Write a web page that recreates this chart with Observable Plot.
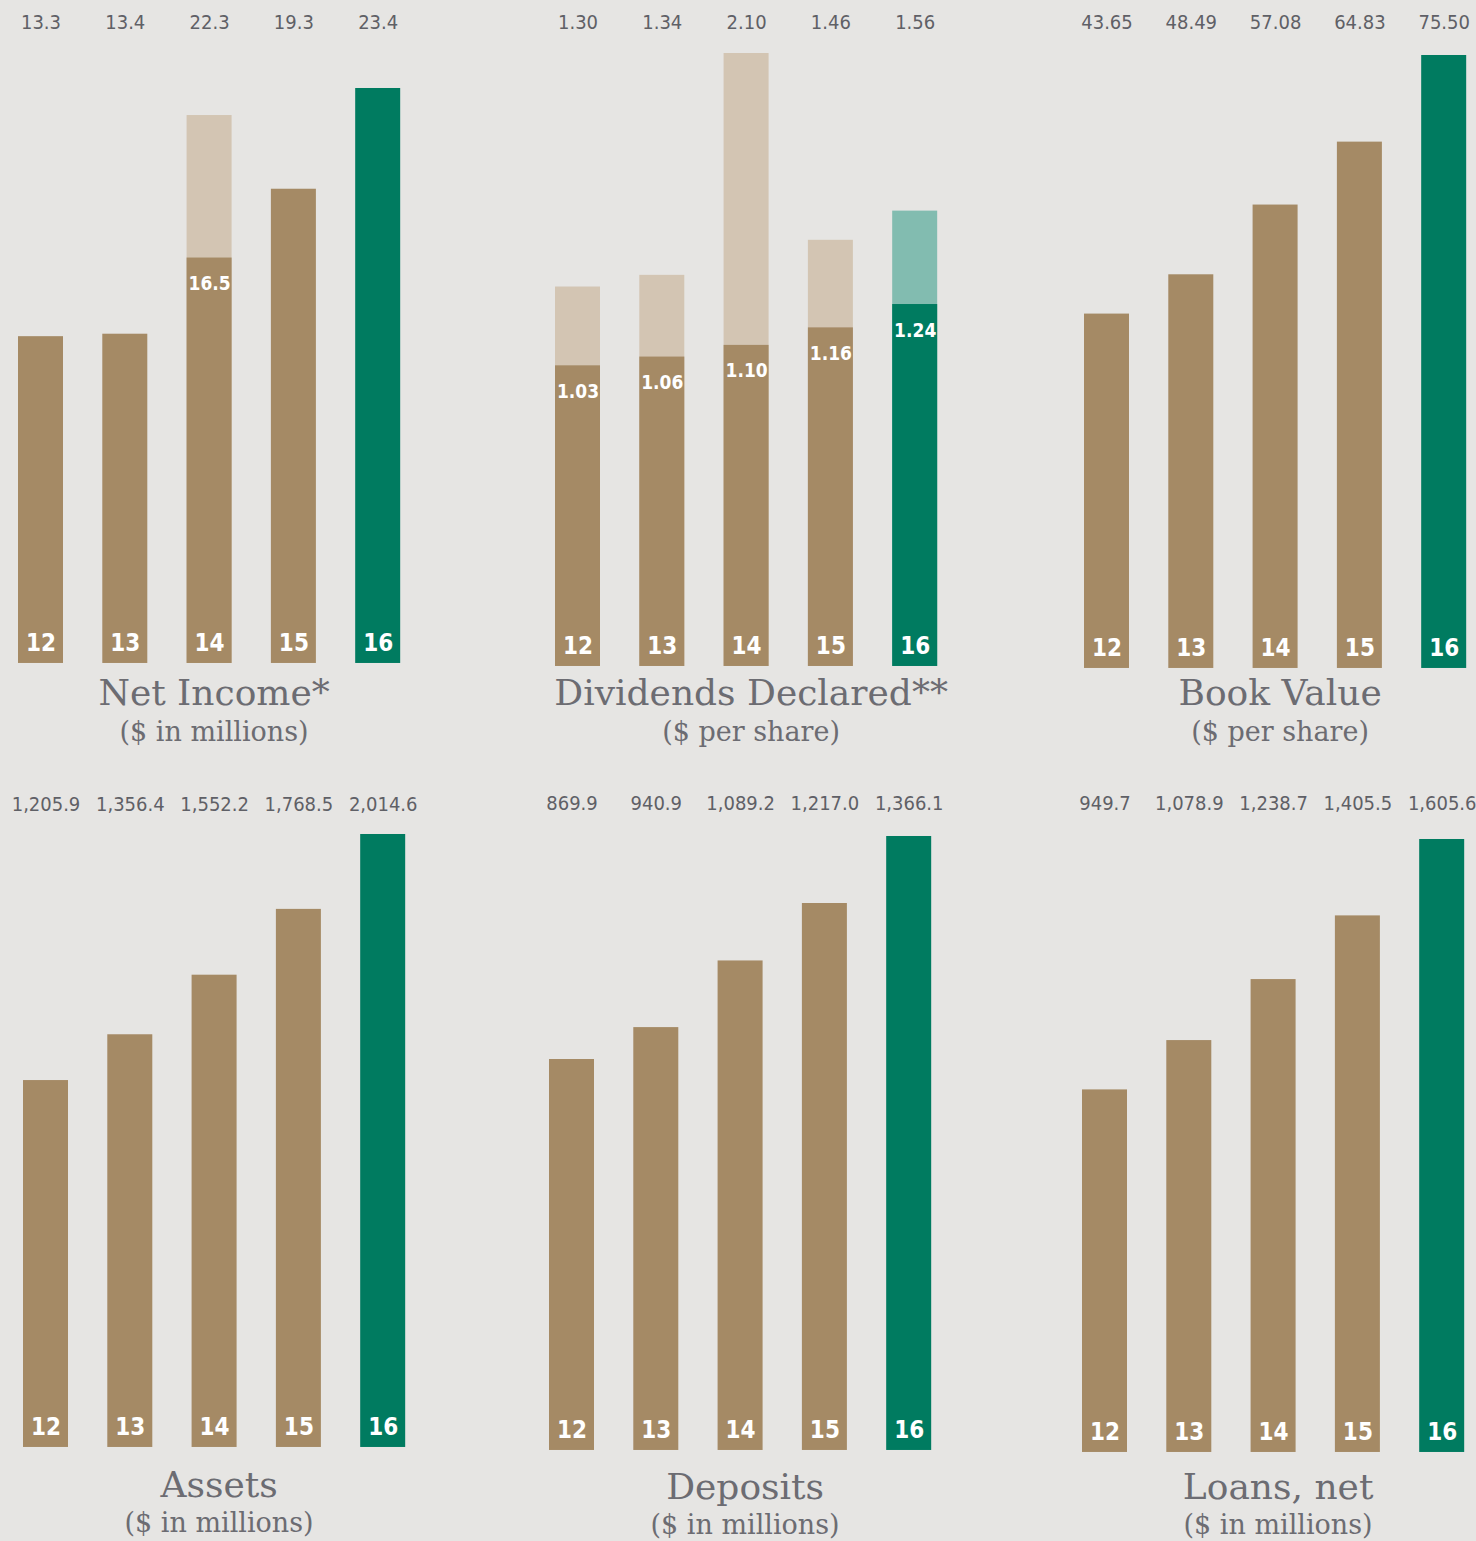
<!DOCTYPE html>
<html><head><meta charset="utf-8">
<script src="https://cdn.jsdelivr.net/npm/d3@7"></script>
<script src="https://cdn.jsdelivr.net/npm/@observablehq/plot@0.6"></script>
<style>
html,body{margin:0;padding:0;background:#e6e5e3;}
#root{position:relative;width:1476px;height:1541px;overflow:hidden;background:#e6e5e3;}
.panel{position:absolute;}
.panel svg{overflow:visible;max-width:none !important;}
.panel svg text{font-stretch:condensed;}
.ttl{position:absolute;font-family:"DejaVu Serif",serif;color:#6c6c72;white-space:nowrap;transform:translateX(-50%);line-height:1;}
</style></head><body><div id="root"></div>
<script>
// ---- data ----
const years = ["12", "13", "14", "15", "16"];
const netIncome = [13.3, 13.4, 22.3, 19.3, 23.4];
const netIncomeCore = [null, null, 16.5, null, null];
const dividendsDeclared = [1.30, 1.34, 2.10, 1.46, 1.56];
const dividendsRegular = [1.03, 1.06, 1.10, 1.16, 1.24];
const bookValue = [43.65, 48.49, 57.08, 64.83, 75.50];
const assets = [1205.9, 1356.4, 1552.2, 1768.5, 2014.6];
const deposits = [869.9, 940.9, 1089.2, 1217.0, 1366.1];
const loansNet = [949.7, 1078.9, 1238.7, 1405.5, 1605.6];
const titles = ["Net Income*", "Dividends Declared**", "Book Value", "Assets", "Deposits", "Loans, net"];
const subtitles = ["($ in millions)", "($ per share)", "($ per share)", "($ in millions)", "($ in millions)", "($ in millions)"];

// ---- styles / layout ----
const TAN = "#a58a65", TAN_LIGHT = "#d3c5b3", GREEN = "#007b60", GREEN_LIGHT = "#82bcb0";
const LABEL_FONT = "'Liberation Sans Narrow','DejaVu Sans Condensed','Roboto Condensed','Open Sans',sans-serif";
const STEP = 84.3, BAR = 45;
const SVG_H = 680, PAD = 30;

const panels = [
  {total: netIncome, core: netIncomeCore, fmt: d3.format(".1f"), barStart: 18, svgTop: 0, bottom: 663, maxY: 88, labelY: 22, titleY: 675, subY: 718},
  {total: dividendsDeclared, core: dividendsRegular, fmt: d3.format(".2f"), barStart: 555, svgTop: 0, bottom: 666, maxY: 53, labelY: 22, titleY: 675, subY: 718},
  {total: bookValue, core: null, fmt: d3.format(".2f"), barStart: 1084, svgTop: 0, bottom: 668, maxY: 55, labelY: 22, titleY: 675, subY: 718},
  {total: assets, core: null, fmt: d3.format(",.1f"), barStart: 23, svgTop: 780, bottom: 1447, maxY: 834, labelY: 804, titleY: 1467, subY: 1509},
  {total: deposits, core: null, fmt: d3.format(",.1f"), barStart: 549, svgTop: 780, bottom: 1450, maxY: 836, labelY: 803, titleY: 1469, subY: 1511},
  {total: loansNet, core: null, fmt: d3.format(",.1f"), barStart: 1082, svgTop: 780, bottom: 1452, maxY: 839, labelY: 803, titleY: 1469, subY: 1511}
];

const root = document.getElementById("root");
const rangeW = STEP * 4 + BAR;
const innerPad = 1 - BAR / STEP;

panels.forEach((p, i) => {
  const rows = years.map((y, j) => ({
    year: y,
    total: p.total[j],
    core: p.core ? p.core[j] : null
  }));
  const isLast = y => y === years[years.length - 1];
  const dark = y => isLast(y) ? GREEN : TAN;
  const light = y => isLast(y) ? GREEN_LIGHT : TAN_LIGHT;
  const splitRows = rows.filter(d => d.core != null);
  const marginTop = p.maxY - p.svgTop;
  const marginBottom = SVG_H - (p.bottom - p.svgTop);
  const width = PAD * 2 + rangeW;

  const chart = Plot.plot({
    width, height: SVG_H,
    marginLeft: PAD, marginRight: PAD, marginTop, marginBottom,
    style: {background: "transparent", fontFamily: LABEL_FONT, overflow: "visible", maxWidth: "none"},
    x: {domain: years, type: "band", paddingInner: innerPad, paddingOuter: 0, round: false, axis: null},
    y: {domain: [0, d3.max(p.total)], axis: null},
    color: {type: "identity"},
    marks: [
      Plot.barY(rows, {x: "year", y: "total", fill: d => d.core != null ? light(d.year) : dark(d.year)}),
      Plot.barY(splitRows, {x: "year", y: "core", fill: d => dark(d.year)}),
      Plot.text(rows, {x: "year", text: d => p.fmt(d.total), frameAnchor: "top", lineAnchor: "middle", dy: p.labelY - p.maxY,
        fill: "#5f6066", fontSize: 20, fontFamily: LABEL_FONT}),
      Plot.text(rows, {x: "year", y: () => 0, text: "year", dy: -20,
        fill: "white", fontSize: 24, fontWeight: "bold", fontFamily: LABEL_FONT}),
      Plot.text(splitRows, {x: "year", y: "core", text: d => p.fmt(d.core), dy: 26,
        fill: "white", fontSize: 19, fontWeight: "bold", fontFamily: LABEL_FONT})
    ]
  });
  const div = document.createElement("div");
  div.className = "panel";
  div.style.left = (p.barStart - PAD) + "px";
  div.style.top = p.svgTop + "px";
  div.style.width = width + "px";
  div.style.height = SVG_H + "px";
  div.appendChild(chart);
  root.appendChild(div);

  const cx = p.barStart + rangeW / 2 + 5;
  const t = document.createElement("div");
  t.className = "ttl";
  t.style.left = cx + "px";
  t.style.top = p.titleY + "px";
  t.style.fontSize = "36px";
  t.textContent = titles[i];
  root.appendChild(t);
  const s = document.createElement("div");
  s.className = "ttl";
  s.style.left = cx + "px";
  s.style.top = p.subY + "px";
  s.style.fontSize = "27px";
  s.textContent = subtitles[i];
  root.appendChild(s);
});
</script>
</body></html>
